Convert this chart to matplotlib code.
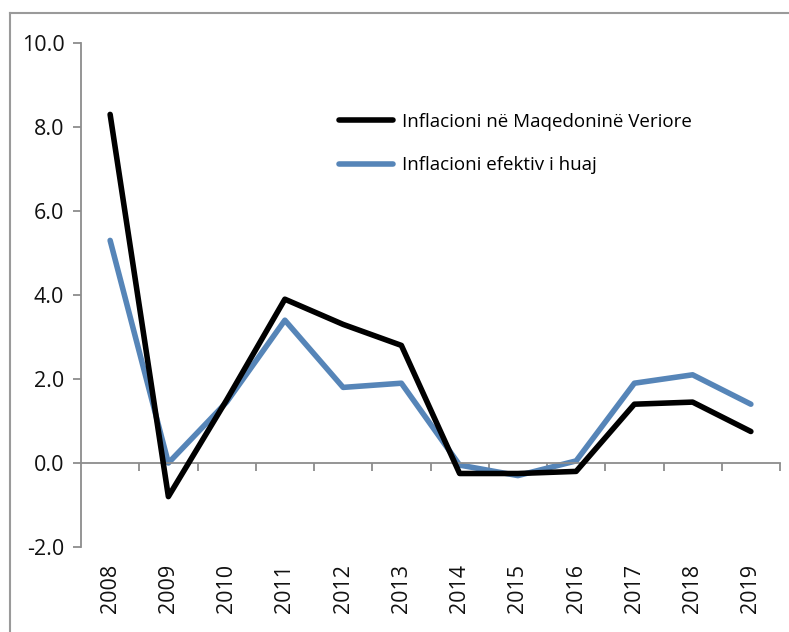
import matplotlib
matplotlib.use("Agg")
import matplotlib.pyplot as plt
from matplotlib.lines import Line2D

# ---- data ----
years = ["2008", "2009", "2010", "2011", "2012", "2013",
         "2014", "2015", "2016", "2017", "2018", "2019"]
infl_mk = [8.3, -0.8, 1.5, 3.9, 3.3, 2.8, -0.25, -0.25, -0.2, 1.4, 1.45, 0.75]
infl_foreign = [5.3, 0.0, 1.45, 3.4, 1.8, 1.9, -0.05, -0.3, 0.05, 1.9, 2.1, 1.4]
yticks = [-2.0, 0.0, 2.0, 4.0, 6.0, 8.0, 10.0]

plt.rcParams['font.family'] = ['Open Sans', 'DejaVu Sans']
GRAY = '#8c8c8c'
BLUE = '#5685b8'

fig = plt.figure(figsize=(7.89, 6.32), dpi=100)
ax = fig.add_axes([81/789, 1 - 547/632, 699/789, 504/632])

x = list(range(len(years)))
ax.plot(x, infl_mk, color='black', lw=4.0, solid_capstyle='round',
        label='Inflacioni në Maqedoninë Veriore', zorder=3)
ax.plot(x, infl_foreign, color=BLUE, lw=4.0, solid_capstyle='round',
        label='Inflacioni efektiv i huaj', zorder=2)

ax.set_xlim(-0.5, len(years) - 0.5)
ax.set_ylim(-2.0, 10.0)

for s in ['top', 'right']:
    ax.spines[s].set_visible(False)
ax.spines['left'].set_color(GRAY)
ax.spines['left'].set_linewidth(1.3)
ax.spines['bottom'].set_position(('data', 0))
ax.spines['bottom'].set_color(GRAY)
ax.spines['bottom'].set_linewidth(1.3)

ax.set_yticks(yticks)
ax.set_yticklabels([f"{v:.1f}" for v in yticks], fontsize=15.5)
ax.tick_params(axis='y', colors=GRAY, labelcolor='#111111', length=6, width=1.3, pad=6)

# ticks on category boundaries, labels below the plot
ax.set_xticks([i + 0.5 for i in x])
ax.set_xticklabels([])
ax.tick_params(axis='x', colors=GRAY, length=6, width=1.3, direction='out')

for i, yr in zip(x, years):
    ax.annotate(yr, xy=(i, 0), xycoords=('data', 'axes fraction'),
                xytext=(0, -17), textcoords='offset pixels',
                rotation=90, ha='center', va='top', fontsize=15.5, color='#111111')

leg = ax.legend(loc='upper left', bbox_to_anchor=(0.345, 0.895), frameon=False,
                fontsize=13.5, handlelength=2.9, handletextpad=0.45, labelspacing=1.35)

# outer frame (top and left edge)
fig.add_artist(Line2D([10/789, 10/789], [0, 1 - 13/632], transform=fig.transFigure,
                      color='#9a9a9a', lw=1.5))
fig.add_artist(Line2D([10/789, 1], [1 - 13/632, 1 - 13/632], transform=fig.transFigure,
                      color='#9a9a9a', lw=1.5))

fig.savefig("out.png", dpi=100)
